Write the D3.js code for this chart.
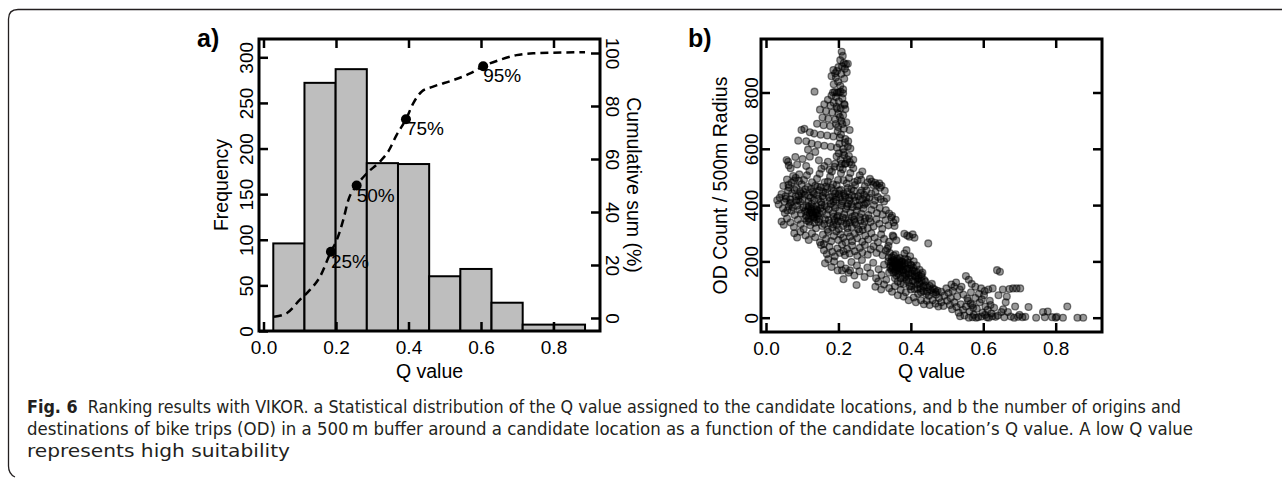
<!DOCTYPE html>
<meta charset="utf-8">
<style>
body { margin: 0; background: #fff; }
.frame { fill: none; stroke: #000; stroke-width: 3; }
.axis line { stroke: #000; stroke-width: 2.5; }
.axis text, .lbl { font-family: "Liberation Sans", Arimo, Arial, Helvetica, sans-serif; font-size: 19px; fill: #000; }
.title { font-family: "Liberation Sans", Arimo, Arial, Helvetica, sans-serif; font-size: 19.5px; fill: #000; }
.panel { font-family: "Liberation Sans", Arimo, Arial, Helvetica, sans-serif; font-size: 25px; font-weight: bold; fill: #000; }
.caption { font-family: "Liberation Sans Narrow", "DejaVu Sans Condensed", sans-serif; font-size: 18.5px; fill: #231f20; }
</style>
<body>
<svg width="1282" height="478"></svg>
<script src="https://cdn.jsdelivr.net/npm/d3@7"></script>
<script>

// histogram of Q values
var binEdges = [0.027, 0.113, 0.199, 0.285, 0.371, 0.457, 0.543, 0.629, 0.715, 0.801, 0.887];
var binCounts = [96, 272, 287, 184, 183, 60, 68, 31, 7, 7];

// cumulative sum curve (%)
var cumQ = [0.029, 0.064, 0.100, 0.128, 0.156, 0.186, 0.202, 0.220, 0.234, 0.257, 0.285, 0.321, 0.344,
            0.367, 0.393, 0.413, 0.436, 0.468, 0.524, 0.570, 0.606, 0.652, 0.698, 0.744, 0.836, 0.887];
var cumPct = [0.5, 1.8, 6.8, 10.6, 15.6, 25, 29.4, 37, 44.5, 50, 54.6, 59, 62.8,
              69, 75, 81, 85.4, 87.3, 89.8, 92.3, 95, 97.4, 99.2, 99.9, 100.2, 100.3];

var markQ = [0.186, 0.257, 0.393, 0.606];
var markPct = [25, 50, 75, 95];
var markLabels = ["25%", "50%", "75%", "95%"];

var qTicks = [0, 0.2, 0.4, 0.6, 0.8];
var freqTicks = [0, 50, 100, 150, 200, 250, 300];
var cumTicks = [0, 20, 40, 60, 80, 100];
var odTicks = [0, 200, 400, 600, 800];

// Q value vs OD count
var odPoints = [
  // top spike
  [0.209,945],[0.212,930],[0.205,915],[0.215,905],[0.221,900],[0.210,893],[0.226,902],[0.200,890],[0.218,884],
  [0.186,880],[0.191,868],[0.196,876],[0.208,866],[0.223,872],[0.181,858],[0.193,853],[0.216,849],[0.199,838],
  [0.187,829],[0.205,824],[0.213,811],
  // column
  [0.185,800],[0.190,802],[0.196,799],[0.201,800],[0.206,803],[0.213,797],[0.134,803],[0.181,789],[0.193,784],
  [0.211,779],[0.171,774],[0.201,769],[0.187,764],[0.216,759],[0.161,758],[0.178,754],[0.195,749],[0.206,744],
  [0.219,741],[0.149,739],[0.166,733],[0.183,729],[0.200,724],[0.213,719],[0.156,711],[0.172,707],[0.191,704],
  [0.208,699],[0.222,694],[0.141,689],[0.159,684],[0.177,681],[0.199,677],[0.215,671],[0.231,667],[0.098,667],
  [0.106,671],[0.121,659],[0.133,654],[0.151,650],[0.169,647],[0.186,644],[0.204,639],[0.219,635],[0.227,627],
  [0.089,629],[0.111,627],[0.126,619],[0.143,614],[0.161,611],[0.179,607],[0.196,604],[0.213,599],[0.233,601],
  [0.116,597],[0.136,589],[0.201,584],[0.216,577],[0.229,574],[0.081,571],[0.057,560],[0.061,554],[0.101,564],
  [0.121,572],[0.146,559],[0.171,554],[0.206,561],[0.221,549],[0.236,544],[0.086,544],[0.111,539],[0.063,541],
  [0.197,742],[0.204,713],[0.211,688],[0.198,662],[0.207,651],[0.218,622],[0.203,618],[0.214,588],[0.224,563],
  [0.195,573],[0.209,547],[0.226,608],[0.193,688],[0.217,756],
  // main blob 460-560
  [0.048,468],[0.062,472],[0.070,479],[0.058,491],[0.075,503],[0.082,497],[0.091,486],[0.098,474],[0.105,489],
  [0.113,506],[0.120,521],[0.127,481],[0.136,469],[0.141,494],[0.148,511],[0.153,529],[0.161,539],[0.166,466],
  [0.171,484],[0.177,501],[0.182,519],[0.189,536],[0.195,471],[0.199,489],[0.207,513],[0.212,527],[0.218,546],
  [0.223,477],[0.229,496],[0.233,514],[0.241,531],[0.246,471],[0.253,487],[0.259,506],[0.266,519],[0.273,467],
  [0.281,481],[0.287,493],[0.296,471],[0.301,479],[0.306,471],[0.313,477],[0.319,469],[0.226,461],[0.151,463],
  [0.116,464],[0.084,461],[0.191,547],[0.204,534],[0.231,553],[0.241,561],[0.176,526],[0.263,490],[0.292,484],
  [0.143,466],[0.162,481],[0.185,474],[0.214,488],[0.244,482],[0.063,463],[0.078,487],[0.092,509],[0.068,531],
  // 410-460
  [0.031,417],[0.038,426],[0.043,439],[0.051,413],[0.054,431],[0.061,451],[0.067,421],[0.072,441],[0.079,454],
  [0.083,416],[0.091,433],[0.094,447],[0.101,421],[0.107,437],[0.109,456],[0.117,413],[0.123,427],[0.129,446],
  [0.133,417],[0.141,436],[0.147,453],[0.152,411],[0.159,424],[0.164,443],[0.169,457],[0.177,416],[0.183,431],
  [0.187,449],[0.193,419],[0.201,439],[0.207,454],[0.211,413],[0.219,429],[0.225,447],[0.231,417],[0.237,435],
  [0.243,451],[0.247,415],[0.255,431],[0.261,444],[0.267,421],[0.271,437],[0.279,411],[0.286,426],[0.291,441],
  [0.301,416],[0.309,429],[0.317,421],[0.326,413],[0.333,424],[0.069,409],[0.124,457],[0.186,413],[0.236,457],
  [0.191,441],[0.204,426],[0.098,440],[0.156,432],[0.214,440],[0.094,412],[0.103,447],[0.119,433],[0.132,441],
  [0.144,422],[0.158,447],[0.174,428],[0.181,461],[0.194,427],[0.202,452],[0.217,434],[0.229,426],[0.244,429],
  [0.258,418],[0.264,452],[0.277,427],[0.278,453],[0.302,446],[0.315,462],[0.328,451],[0.055,423],[0.082,431],
  [0.089,418],
  // 360-410
  [0.035,402],[0.047,388],[0.052,372],[0.063,395],[0.071,380],[0.079,365],[0.086,398],[0.093,384],[0.097,370],
  [0.103,392],[0.108,378],[0.111,362],[0.117,386],[0.121,371],[0.124,380],[0.129,366],[0.131,392],[0.136,375],
  [0.139,384],[0.143,362],[0.147,370],[0.151,389],[0.156,376],[0.162,398],[0.168,366],[0.173,384],[0.179,404],
  [0.185,372],[0.191,390],[0.198,362],[0.203,380],[0.209,398],[0.216,368],[0.221,386],[0.227,404],[0.233,374],
  [0.239,392],[0.245,363],[0.251,381],[0.257,399],[0.263,370],[0.269,388],[0.276,406],[0.283,365],[0.291,383],
  [0.298,400],[0.306,372],[0.314,390],[0.322,366],[0.331,382],[0.340,370],[0.348,362],[0.118,395],[0.133,358],
  [0.127,374],[0.142,381],[0.114,377],[0.138,368],[0.125,387],[0.112,398],[0.126,404],[0.139,396],[0.153,401],
  [0.167,393],[0.188,399],[0.209,407],[0.224,396],[0.236,403],[0.252,396],[0.271,401],[0.066,406],[0.074,392],
  [0.059,381],
  // 310-360
  [0.043,342],[0.049,330],[0.058,352],[0.068,338],[0.077,322],[0.088,348],[0.096,332],[0.104,315],[0.113,344],
  [0.122,328],[0.131,354],[0.138,318],[0.146,340],[0.155,326],[0.163,350],[0.170,312],[0.176,336],[0.183,320],
  [0.189,346],[0.195,330],[0.201,314],[0.207,342],[0.213,326],[0.219,352],[0.225,318],[0.231,338],[0.237,322],
  [0.243,348],[0.249,332],[0.255,314],[0.261,344],[0.268,328],[0.274,354],[0.281,318],[0.289,340],[0.297,324],
  [0.305,350],[0.313,334],[0.321,316],[0.330,346],[0.338,328],[0.346,356],[0.352,338],[0.358,348],[0.355,326],
  [0.196,356],[0.238,358],[0.267,312],[0.222,334],[0.186,331],[0.108,352],[0.119,341],[0.134,337],[0.148,351],
  [0.161,333],[0.173,347],[0.187,359],[0.199,343],[0.212,356],[0.228,346],[0.246,338],[0.259,357],[0.272,341],
  [0.285,352],[0.118,352],[0.128,361],[0.140,349],
  // 265-310
  [0.078,300],[0.086,285],[0.095,305],[0.109,292],[0.118,276],[0.127,300],[0.136,286],[0.149,268],[0.157,295],
  [0.166,280],[0.172,305],[0.180,272],[0.187,290],[0.194,306],[0.200,276],[0.206,296],[0.213,284],[0.220,268],
  [0.226,302],[0.232,288],[0.238,272],[0.245,298],[0.252,282],[0.258,306],[0.266,270],[0.274,292],[0.282,278],
  [0.291,300],[0.300,284],[0.309,268],[0.318,296],[0.326,280],[0.352,288],[0.350,292],[0.382,298],[0.390,292],
  [0.396,288],[0.405,296],[0.410,284],[0.448,264],[0.340,270],[0.360,275],
  // 215-265
  [0.152,258],[0.160,240],[0.168,226],[0.175,252],[0.183,234],[0.190,218],[0.197,246],[0.204,230],[0.210,260],
  [0.218,222],[0.224,244],[0.231,228],[0.238,256],[0.245,236],[0.252,220],[0.259,248],[0.266,232],[0.273,258],
  [0.281,224],[0.289,242],[0.297,254],[0.305,230],[0.314,246],[0.322,222],[0.331,238],[0.338,255],[0.160,262],
  [0.214,236],
  // 110-215
  [0.163,193],[0.172,208],[0.181,180],[0.188,200],[0.198,168],[0.206,190],[0.214,137],[0.220,175],[0.228,160],
  [0.236,198],[0.244,150],[0.251,185],[0.258,165],[0.265,205],[0.250,116],[0.272,145],[0.280,178],[0.288,158],
  [0.296,195],[0.304,140],[0.311,172],[0.319,152],[0.326,188],[0.232,168],[0.210,168],
  // second cluster
  [0.335,245],[0.342,230],[0.348,215],[0.352,205],[0.356,195],[0.344,185],[0.338,200],[0.358,180],[0.362,210],
  [0.366,190],[0.370,175],[0.374,200],[0.346,170],[0.352,160],[0.360,150],[0.368,165],[0.376,185],[0.380,160],
  [0.384,210],[0.388,240],[0.392,195],[0.396,175],[0.400,150],[0.356,140],[0.364,128],[0.372,140],[0.380,120],
  [0.388,135],[0.394,158],[0.402,185],[0.406,130],[0.410,165],[0.414,145],[0.418,118],[0.422,150],[0.426,105],
  [0.430,130],[0.434,95],[0.438,115],[0.442,85],[0.446,108],[0.450,78],[0.454,98],[0.458,120],[0.462,88],
  [0.466,100],[0.470,82],[0.474,96],[0.478,70],[0.382,228],[0.398,218],[0.408,200],[0.416,185],[0.424,170],
  [0.432,160],[0.340,160],[0.332,135],[0.326,118],[0.318,100],[0.310,128],[0.302,110],[0.340,105],[0.348,92],
  [0.356,112],[0.364,80],[0.372,98],[0.380,75],[0.386,90],[0.394,62],[0.400,100],[0.408,72],[0.414,55],
  [0.420,85],[0.428,62],[0.436,48],[0.444,60],[0.452,45],[0.460,62],[0.468,50],[0.476,40],[0.484,55],
  [0.490,42],[0.358,225],[0.345,198],[0.370,212],[0.390,175],[0.404,168],[0.418,135],[0.430,145],[0.440,128],
  [0.365,155],[0.378,148],[0.386,170],[0.350,175],[0.362,188],[0.372,122],[0.397,112],[0.410,102],[0.428,90],
  [0.484,92],[0.492,78],[0.498,104],[0.504,88],[0.510,70],[0.516,95],[0.520,110],[0.512,118],[0.355,190],
  [0.367,178],[0.377,198],[0.361,168],[0.383,182],[0.349,184],[0.339,214],[0.347,202],[0.353,221],[0.359,199],
  [0.363,176],[0.369,203],[0.373,187],[0.378,169],[0.383,193],[0.387,152],[0.391,206],[0.395,141],[0.399,189],
  [0.403,157],[0.407,176],[0.412,128],[0.416,161],[0.421,139],[0.425,121],[0.429,154],[0.434,111],[0.343,177],
  [0.351,196],[0.357,164],[0.368,196],[0.375,171],[0.384,145],[0.393,126],[0.401,112],[0.411,148],[0.419,102],
  [0.437,134],[0.445,92],[0.452,113],[0.461,104],[0.469,91],
  // tail
  [0.500,60],[0.508,45],[0.514,30],[0.520,55],[0.526,38],[0.532,18],[0.538,48],[0.544,28],[0.548,8],
  [0.552,40],[0.558,60],[0.562,22],[0.566,90],[0.570,45],[0.574,10],[0.578,70],[0.582,32],[0.586,2],
  [0.590,55],[0.594,104],[0.598,18],[0.602,80],[0.606,40],[0.610,2],[0.614,100],[0.618,60],[0.622,15],
  [0.626,104],[0.630,35],[0.634,3],[0.638,169],[0.646,163],[0.642,80],[0.650,20],[0.654,100],[0.658,2],
  [0.662,55],[0.668,20],[0.672,102],[0.676,4],[0.682,104],[0.688,40],[0.692,104],[0.696,3],[0.702,104],
  [0.708,2],[0.716,3],[0.725,38],[0.746,0],[0.765,20],[0.770,2],[0.778,22],[0.790,2],[0.800,0],
  [0.803,3],[0.820,0],[0.832,40],[0.860,0],[0.876,0],[0.552,148],[0.560,135],[0.568,120],[0.578,110],
  [0.535,100],[0.528,75],[0.545,82],[0.556,68],[0.565,50],[0.572,35],[0.588,85],[0.596,65],[0.604,95],
  [0.612,28],[0.620,45],[0.540,110],[0.525,125],[0.536,5],[0.560,0],[0.570,2],[0.580,0],[0.595,4],
  [0.605,10],[0.615,0],[0.625,5],[0.640,8],[0.655,30],[0.665,75],[0.685,0],[0.700,10]
];

var captionLines = [
  ["Fig. 6", "  Ranking results with VIKOR. a Statistical distribution of the Q value assigned to the candidate locations, and b the number of origins and"],
  ["", "destinations of bike trips (OD) in a 500\u2009m buffer around a candidate location as a function of the candidate location\u2019s Q value. A low Q value"],
  ["", "represents high suitability"]
];

var svg = d3.select("svg");

// outer rounded border
svg.append("path")
    .attr("d", "M1282,9.5H18Q8.5,9.5 8.5,19V466Q8.5,474 15,477")
    .attr("fill", "none")
    .attr("stroke", "#231f20")
    .attr("stroke-width", 1.3);

// ---------- panel a ----------
var fa = {x0: 259, x1: 600, y0: 39, y1: 331};
var xa = d3.scaleLinear().domain([0, 0.8]).range([263.5, 553.5]);
var ya = d3.scaleLinear().domain([0, 300]).range([331, 57.3]);
var ya2 = d3.scaleLinear().domain([0, 100]).range([318, 53]);

var ga = svg.append("g");

ga.selectAll("rect.bar")
  .data(binCounts)
  .enter().append("rect")
    .attr("class", "bar")
    .attr("x", function(d, i) { return xa(binEdges[i]); })
    .attr("width", function(d, i) { return xa(binEdges[i + 1]) - xa(binEdges[i]); })
    .attr("y", function(d) { return ya(d); })
    .attr("height", function(d) { return ya(0) - ya(d); })
    .attr("fill", "#bebebe")
    .attr("stroke", "#000")
    .attr("stroke-width", 2);

function drawAxes(g, f, x, yl, yr, lTicks, rTicks, lOff, rOff) {
  var b = g.append("g").attr("class", "axis").attr("transform", "translate(0," + f.y1 + ")")
      .call(d3.axisBottom(x).tickValues(qTicks).tickSize(-9).tickFormat(d3.format(".1f")));
  b.selectAll("text").attr("y", 23).attr("dy", 0);

  g.append("g").attr("class", "axis").attr("transform", "translate(0," + f.y0 + ")")
      .call(d3.axisTop(x).tickValues(qTicks).tickSize(-9).tickFormat(""));

  var l = g.append("g").attr("class", "axis").attr("transform", "translate(" + f.x0 + ",0)")
      .call(d3.axisLeft(yl).tickValues(lTicks).tickSize(-9));
  l.selectAll("text")
      .attr("x", null).attr("dy", 0)
      .attr("text-anchor", "middle")
      .attr("transform", "translate(" + (-lOff) + ",0) rotate(-90)");

  var r = g.append("g").attr("class", "axis").attr("transform", "translate(" + f.x1 + ",0)")
      .call(d3.axisRight(yr).tickValues(rTicks).tickSize(-9));
  if (rOff === null) {
    r.selectAll("text").remove();
  } else {
    r.selectAll("text")
        .attr("x", null).attr("dy", 0)
        .attr("text-anchor", "middle")
        .attr("transform", "translate(" + rOff + ",0) rotate(90)");
  }
  g.selectAll(".axis .domain").remove();

  g.append("rect")
      .attr("class", "frame")
      .attr("x", f.x0).attr("y", f.y0)
      .attr("width", f.x1 - f.x0).attr("height", f.y1 - f.y0);
}

drawAxes(ga, fa, xa, ya, ya2, freqTicks, cumTicks, 6, 6);

var cumLine = d3.line()
    .x(function(d, i) { return xa(cumQ[i]); })
    .y(function(d) { return ya2(d); })
    .curve(d3.curveMonotoneX);

ga.append("path")
    .attr("d", cumLine(cumPct))
    .attr("fill", "none")
    .attr("stroke", "#000")
    .attr("stroke-width", 2.5)
    .attr("stroke-dasharray", "8,5");

ga.selectAll("circle.mark")
  .data(markPct)
  .enter().append("circle")
    .attr("class", "mark")
    .attr("cx", function(d, i) { return xa(markQ[i]); })
    .attr("cy", function(d) { return ya2(d); })
    .attr("r", 5)
    .attr("fill", "#000");

ga.selectAll("text.mlab")
  .data(markLabels)
  .enter().append("text")
    .attr("class", "lbl")
    .attr("x", function(d, i) { return xa(markQ[i]); })
    .attr("y", function(d, i) { return ya2(markPct[i]) + 16; })
    .text(function(d) { return d; });

ga.append("text").attr("class", "title")
    .attr("transform", "translate(228," + (fa.y0 + fa.y1) / 2 + ") rotate(-90)")
    .attr("text-anchor", "middle")
    .text("Frequency");

ga.append("text").attr("class", "title")
    .attr("transform", "translate(627," + (fa.y0 + fa.y1) / 2 + ") rotate(90)")
    .attr("text-anchor", "middle")
    .text("Cumulative sum (%)");

ga.append("text").attr("class", "title")
    .attr("x", (fa.x0 + fa.x1) / 2).attr("y", 378)
    .attr("text-anchor", "middle")
    .text("Q value");

ga.append("text").attr("class", "panel").attr("x", 197).attr("y", 47).text("a)");

// ---------- panel b ----------
var fb = {x0: 761, x1: 1102, y0: 39, y1: 332};
var xb = d3.scaleLinear().domain([0, 0.8]).range([766, 1055.7]);
var yb = d3.scaleLinear().domain([0, 800]).range([317.7, 92.5]);

var gb = svg.append("g");

gb.append("g").selectAll("circle")
  .data(odPoints)
  .enter().append("circle")
    .attr("cx", function(d) { return xb(d[0]); })
    .attr("cy", function(d) { return yb(d[1]); })
    .attr("r", 3.4)
    .attr("fill", "rgba(0,0,0,0.4)")
    .attr("stroke", "rgba(0,0,0,0.5)")
    .attr("stroke-width", 1.3);

drawAxes(gb, fb, xb, yb, yb, odTicks, odTicks, 3, null);

gb.append("text").attr("class", "title")
    .attr("transform", "translate(727," + (fb.y0 + fb.y1) / 2 + ") rotate(-90)")
    .attr("text-anchor", "middle")
    .text("OD Count / 500m Radius");

gb.append("text").attr("class", "title")
    .attr("x", (fb.x0 + fb.x1) / 2).attr("y", 378)
    .attr("text-anchor", "middle")
    .text("Q value");

gb.append("text").attr("class", "panel").attr("x", 688).attr("y", 47).text("b)");

// ---------- caption ----------
var capY = [413, 435, 457];
var capLen = [1154, 1166, 263];
captionLines.forEach(function(line, i) {
  var t = svg.append("text")
      .attr("class", "caption")
      .attr("x", 27).attr("y", capY[i])
      .attr("textLength", capLen[i])
      .attr("lengthAdjust", "spacingAndGlyphs")
      .attr("xml:space", "preserve");
  if (line[0]) t.append("tspan").attr("font-weight", "bold").text(line[0]);
  t.append("tspan").text(line[1]);
});

</script>
</body>
